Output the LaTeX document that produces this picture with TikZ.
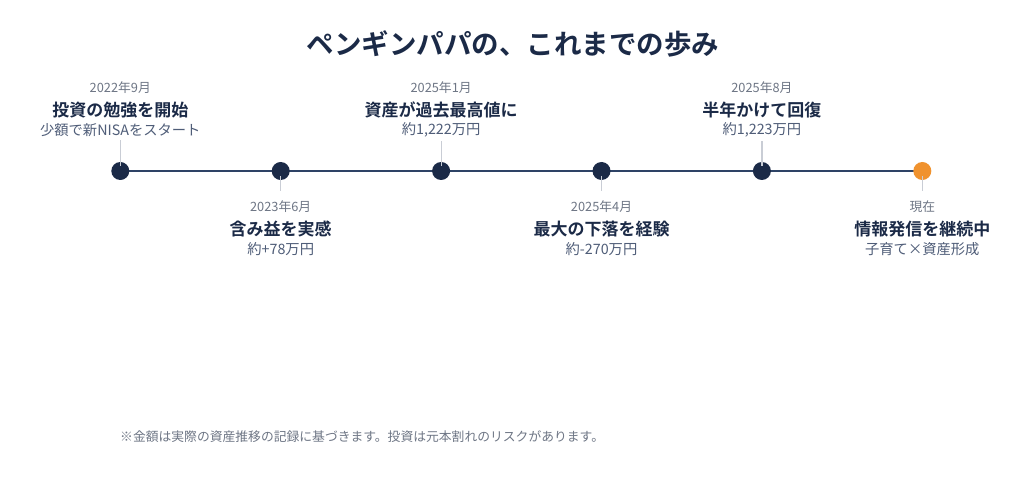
\documentclass[tikz,border=0pt]{standalone}
\usepackage{fontspec}
\setmainfont{Noto Sans CJK JP}[BoldFont={Noto Sans CJK JP Bold}]
\usetikzlibrary{backgrounds}
\definecolor{navy}{HTML}{1B2A47}
\definecolor{axisblue}{HTML}{2E4366}
\definecolor{dategray}{HTML}{6E7685}
\definecolor{subgray}{HTML}{4F5D78}
\definecolor{tickgray}{HTML}{C9CDD5}
\definecolor{nowred}{HTML}{F0922E}
\tikzset{
  evdot/.style={circle, fill=navy, minimum size=18pt, inner sep=0pt},
  nowdot/.style={evdot, fill=nowred},
  datetext/.style={font=\fontsize{12.8}{14}\selectfont, text=dategray, inner sep=0pt},
  headtext/.style={font=\fontsize{17}{20}\selectfont\bfseries, text=navy, inner sep=0pt},
  subtext/.style={font=\fontsize{14.3}{16}\selectfont, text=subgray, inner sep=0pt},
  tickline/.style={draw=tickgray, line width=1.2pt},
  axisline/.style={draw=axisblue, line width=2.8pt}
}
\begin{document}
\begin{tikzpicture}[x=1pt, y=-1pt]
    \useasboundingbox (0,0) rectangle (1024,478);
    % title
    \node [font=\fontsize{27.5}{30}\selectfont\bfseries, text=navy, inner sep=0pt] (title) at (513,44) {ペンギンパパの、これまでの歩み};
    % dots on the line
    \node [evdot] (dot1) at (120.3,171) {};
    \node [evdot] (dot2) at (280.7,171) {};
    \node [evdot] (dot3) at (441.1,171) {};
    \node [evdot] (dot4) at (601.5,171) {};
    \node [evdot] (dot5) at (761.9,171) {};
    \node [nowdot] (dot6) at (922.3,171) {};
    \begin{scope}[on background layer]
    \fill [white] (0,0) rectangle (1024,478);
    \draw [axisline] (dot1.center) -- (dot6.center);
    \end{scope}
    % upper labels
    \node [datetext] (date1) at (120.3,88) {2022年9月};
    \node [headtext] (head1) at (120.3,110) {投資の勉強を開始};
    \node [subtext] (sub1) at (120.3,130) {少額で新NISAをスタート};
    \node [datetext] (date3) at (441.1,88) {2025年1月};
    \node [headtext] (head3) at (441.1,110) {資産が過去最高値に};
    \node [subtext] (sub3) at (441.1,130) {約1,222万円};
    \node [datetext] (date5) at (761.9,88) {2025年8月};
    \node [headtext] (head5) at (761.9,110) {半年かけて回復};
    \node [subtext] (sub5) at (761.9,130) {約1,223万円};
    % lower labels
    \node [datetext] (date2) at (280.7,207) {2023年6月};
    \node [headtext] (head2) at (280.7,229) {含み益を実感};
    \node [subtext] (sub2) at (280.7,249) {約+78万円};
    \node [datetext] (date4) at (601.5,207) {2025年4月};
    \node [headtext] (head4) at (601.5,229) {最大の下落を経験};
    \node [subtext] (sub4) at (601.5,249) {約-270万円};
    \node [datetext] (date6) at (922.3,207) {現在};
    \node [headtext] (head6) at (922.3,229) {情報発信を継続中};
    \node [subtext] (sub6) at (922.3,249) {子育て×資産形成};
    % ticks
    \draw [tickline] ([yshift=5pt]dot1.center) -- ([yshift=-3pt]sub1.south);
    \draw [tickline] ([yshift=5pt]dot3.center) -- ([yshift=-3pt]sub3.south);
    \draw [tickline] ([yshift=5pt]dot5.center) -- ([yshift=-3pt]sub5.south);
    \draw [tickline] ([yshift=-5pt]dot2.center) -- ([yshift=10pt]date2.north);
    \draw [tickline] ([yshift=-5pt]dot4.center) -- ([yshift=10pt]date4.north);
    \draw [tickline] ([yshift=-5pt]dot6.center) -- ([yshift=10pt]date6.north);
    % footnote
    \node [datetext, anchor=west] (note) at (120,437) {※金額は実際の資産推移の記録に基づきます。投資は元本割れのリスクがあります。};
\end{tikzpicture}
\end{document}
